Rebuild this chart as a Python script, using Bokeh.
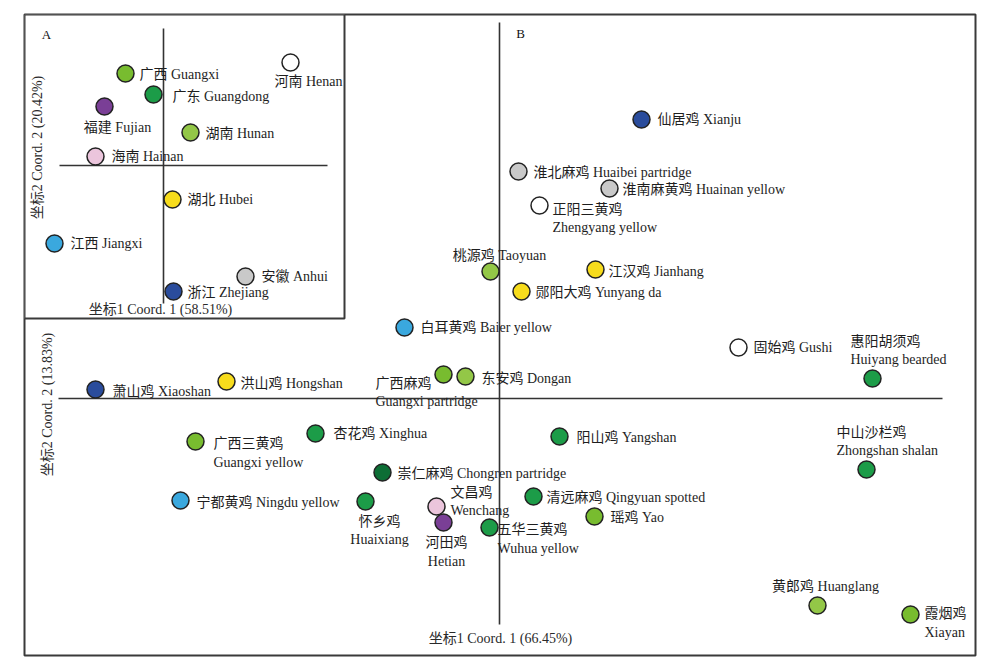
import math
from bokeh.plotting import figure
from bokeh.models import Range1d, ColumnDataSource
from bokeh.core.properties import value
from bokeh.embed import file_html
from bokeh.resources import INLINE

# ---------------- data: panel B (breeds) ----------------
main_cn = ["仙居鸡", "淮北麻鸡", "淮南麻黄鸡", "正阳三黄鸡", "桃源鸡", "江汉鸡", "郧阳大鸡",
           "白耳黄鸡", "固始鸡", "惠阳胡须鸡", "萧山鸡", "洪山鸡", "广西麻鸡", "东安鸡",
           "广西三黄鸡", "杏花鸡", "阳山鸡", "中山沙栏鸡", "崇仁麻鸡", "宁都黄鸡", "怀乡鸡",
           "文昌鸡", "清远麻鸡", "瑶鸡", "河田鸡", "五华三黄鸡", "黄郎鸡", "霞烟鸡"]
main_en = ["Xianju", "Huaibei partridge", "Huainan yellow", "Zhengyang yellow", "Taoyuan",
           "Jianhang", "Yunyang da", "Baier yellow", "Gushi", "Huiyang bearded", "Xiaoshan",
           "Hongshan", "Guangxi partridge", "Dongan", "Guangxi yellow", "Xinghua", "Yangshan",
           "Zhongshan shalan", "Chongren partridge", "Ningdu yellow", "Huaixiang", "Wenchang",
           "Qingyuan spotted", "Yao", "Hetian", "Wuhua yellow", "Huanglang", "Xiayan"]
main_coord1 = [0.142, 0.019, 0.110, 0.040, -0.009, 0.096, 0.022,
               -0.095, 0.239, 0.373, -0.404, -0.273, -0.056, -0.034,
               -0.304, -0.184, 0.060, 0.367, -0.117, -0.319, -0.134,
               -0.063, 0.034, 0.095, -0.056, -0.010, 0.318, 0.411]
main_coord2 = [0.279, 0.227, 0.210, 0.193, 0.127, 0.129, 0.107,
               0.071, 0.051, 0.020, 0.009, 0.017, 0.024, 0.022,
               -0.043, -0.035, -0.038, -0.071, -0.074, -0.102, -0.103,
               -0.108, -0.098, -0.118, -0.124, -0.129, -0.207, -0.216]
main_group = ["Zhejiang", "Anhui", "Anhui", "Henan", "Hunan", "Hubei", "Hubei",
              "Jiangxi", "Henan", "Guangdong", "Zhejiang", "Hubei", "Guangxi", "Hunan",
              "Guangxi", "Guangdong", "Guangdong", "Guangdong", "Jiangxi2", "Jiangxi", "Guangdong",
              "Hainan", "Guangdong", "Guangxi", "Fujian", "Guangdong", "Hunan", "Guangxi"]

# ---------------- data: panel A (provinces) ----------------
prov_cn = ["广西", "广东", "福建", "河南", "湖南", "海南", "湖北", "江西", "安徽", "浙江"]
prov_en = ["Guangxi", "Guangdong", "Fujian", "Henan", "Hunan", "Hainan", "Hubei", "Jiangxi",
           "Anhui", "Zhejiang"]
prov_coord1 = [-0.038, -0.010, -0.059, 0.127, 0.027, -0.068, 0.009, -0.109, 0.082, 0.010]
prov_coord2 = [0.092, 0.071, 0.059, 0.103, 0.033, 0.009, -0.034, -0.078, -0.111, -0.126]
prov_group = ["Guangxi", "Guangdong", "Fujian", "Henan", "Hunan", "Hainan", "Hubei",
              "Jiangxi", "Anhui", "Zhejiang"]

main_xlabel = "坐标1 Coord. 1 (66.45%)"
main_ylabel = "坐标2 Coord. 2 (13.83%)"
inset_xlabel = "坐标1 Coord. 1 (58.51%)"
inset_ylabel = "坐标2 Coord. 2 (20.42%)"

# ---------------- styles ----------------
group_color = {
    "Guangxi": "#78bc2f", "Hunan": "#93c747", "Guangdong": "#1c9c48", "Jiangxi2": "#0d6e35",
    "Fujian": "#7a3f96", "Hainan": "#ebc5dc", "Henan": "#ffffff", "Hubei": "#f7dc1c",
    "Jiangxi": "#3aa8de", "Anhui": "#c9c9c9", "Zhejiang": "#2a4c9c",
}
FONT = value("Liberation Serif, Noto Sans CJK SC")
FS = "14px"
TXT = "#1e1e1e"

# label layout (mode, dx, dy1, dy2, align, sep) in screen pixels
main_layout = [
    ("one", 16, 0, 0, "left", " "), ("one", 15, 1, 0, "left", " "), ("one", 13, 1, 0, "left", " "),
    ("two", 13, 4, 22, "left", ""), ("one", 9, -16, 0, "center", " "), ("one", 13, 2, 0, "left", " "),
    ("one", 14, 1, 0, "left", " "), ("one", 16, 0, 0, "left", " "), ("one", 15, 0, 0, "left", " "),
    ("two", -22, -37, -19, "left", ""), ("one", 17, 2, 0, "left", " "), ("one", 14, 2, 0, "left", " "),
    ("two", -68, 9, 27, "left", ""), ("one", 16, 2, 0, "left", " "), ("two", 18, 2, 21, "left", ""),
    ("one", 18, 0, 0, "left", " "), ("one", 17, 1, 0, "left", " "), ("two", -30, -37, -19, "left", ""),
    ("one", 15, 1, 0, "left", "   "), ("one", 16, 2, 0, "left", " "), ("two", 14, 20, 38, "center", ""),
    ("two", 14, -14, 4, "left", ""), ("one", 13, 1, 0, "left", "   "), ("one", 16, 1, 0, "left", " "),
    ("two", 3, 20, 39, "center", ""), ("two", 8, 2, 21, "left", ""), ("one", 8, -19, 0, "center", " "),
    ("two", 14, -1, 18, "left", ""),
]
prov_layout = [
    ("one", 14, 1, 0, "left", " "), ("one", 19, 2, 0, "left", " "), ("one", 13, 21, 0, "center", " "),
    ("one", 18, 19, 0, "center", " "), ("one", 15, 1, 0, "left", " "), ("one", 16, 0, 0, "left", " "),
    ("one", 15, 0, 0, "left", " "), ("one", 16, 0, 0, "left", " "), ("one", 16, 0, 0, "left", " "),
    ("one", 14, 1, 0, "left", " "),
]

# ---------------- geometry ----------------
W, H = 992, 660
MX0, MX1, MY0, MY1 = -0.475, 0.476, -0.257, 0.384      # main ranges
IX0, IX1, IY0, IY1 = -0.139, 0.812, -0.490, 0.151      # inset ranges (same pixel scale)

p = figure(width=W, height=H, output_backend="svg", toolbar_location=None,
           x_range=Range1d(MX0, MX1), y_range=Range1d(MY0, MY1),
           x_axis_type=None, y_axis_type=None,
           min_border_left=24, min_border_right=17, min_border_top=14, min_border_bottom=5)
p.grid.visible = False
p.outline_line_color = "#3a3a3a"
p.outline_line_width = 2
p.background_fill_color = "white"
p.border_fill_color = "white"
p.extra_x_ranges = {"ix": Range1d(IX0, IX1)}
p.extra_y_ranges = {"iy": Range1d(IY0, IY1)}

LINE = "#333333"

# main zero lines
p.segment(x0=[0, -0.441], y0=[-0.226, 0], x1=[0, 0.443], y1=[0.376, 0],
          line_color=LINE, line_width=1.6)


def add_points(cn, en, c1, c2, groups, layout, xr=None, yr=None):
    kw = {}
    if xr:
        kw = dict(x_range_name=xr, y_range_name=yr)
    src = ColumnDataSource(dict(x=c1, y=c2, color=[group_color[g] for g in groups]))
    p.scatter("x", "y", source=src, size=17, fill_color="color", line_color="#222222",
              line_width=1.5, **kw)
    rows = {"left": dict(x=[], y=[], t=[], dx=[], dy=[]),
            "center": dict(x=[], y=[], t=[], dx=[], dy=[])}
    for i in range(len(cn)):
        mode, dx, dy1, dy2, align, sep = layout[i]
        r = rows[align]
        if mode == "one":
            r["x"].append(c1[i]); r["y"].append(c2[i]); r["t"].append(cn[i] + sep + en[i])
            r["dx"].append(dx); r["dy"].append(dy1)
        else:
            for t, dy in ((cn[i], dy1), (en[i], dy2)):
                r["x"].append(c1[i]); r["y"].append(c2[i]); r["t"].append(t)
                r["dx"].append(dx); r["dy"].append(dy)
    for align, r in rows.items():
        if not r["x"]:
            continue
        s = ColumnDataSource(r)
        p.text("x", "y", text="t", x_offset="dx", y_offset="dy", source=s,
               text_align=align, text_baseline="middle", text_font=FONT,
               text_font_size=FS, text_color=TXT, **kw)


add_points(main_cn, main_en, main_coord1, main_coord2, main_group, main_layout)

# main titles
p.text(x=[0.001], y=[-0.240], text=[main_xlabel], text_align="center", text_baseline="middle",
       text_font=FONT, text_font_size=FS, text_color="#2a2a2a")
p.text(x=[-0.452], y=[-0.006], text=[main_ylabel], angle=math.pi / 2, text_align="center",
       text_baseline="middle", text_font=FONT, text_font_size=FS, text_color="#2a2a2a")
p.text(x=[0.021], y=[0.365], text=["B"], text_align="center", text_baseline="middle",
       text_font=FONT, text_font_size="13px", text_color="#111111")

# inset panel A
p.quad(left=[IX0], right=[0.181], top=[IY1], bottom=[-0.153], x_range_name="ix",
       y_range_name="iy", fill_color="white", line_color="#3a3a3a", line_width=2)
p.segment(x0=[0, -0.104], y0=[-0.138, 0], x1=[0, 0.164], y1=[0.137, 0],
          x_range_name="ix", y_range_name="iy", line_color=LINE, line_width=1.6)
add_points(prov_cn, prov_en, prov_coord1, prov_coord2, prov_group, prov_layout, "ix", "iy")
p.text(x=[-0.003], y=[-0.144], text=[inset_xlabel], text_align="center", text_baseline="middle",
       text_font=FONT, text_font_size=FS, text_color="#2a2a2a", x_range_name="ix", y_range_name="iy")
p.text(x=[-0.126], y=[0.018], text=[inset_ylabel], angle=math.pi / 2, text_align="center",
       text_baseline="middle", text_font=FONT, text_font_size=FS, text_color="#2a2a2a",
       x_range_name="ix", y_range_name="iy")
p.text(x=[-0.117], y=[0.131], text=["A"], text_align="center", text_baseline="middle",
       text_font=FONT, text_font_size="13px", text_color="#111111",
       x_range_name="ix", y_range_name="iy")

open("out.html", "w").write(file_html(p, INLINE))
